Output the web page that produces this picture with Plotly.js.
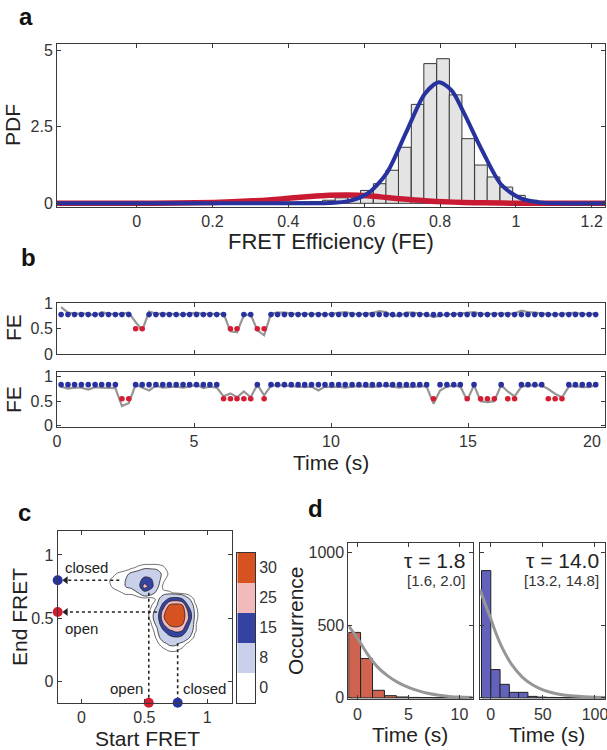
<!DOCTYPE html>
<html><head><meta charset="utf-8">
<script src="https://cdn.plot.ly/plotly-3.0.1.min.js"></script>
<style>html,body{margin:0;padding:0;background:#fff}#chart{width:607px;height:750px}</style>
</head><body><div id="chart"></div>
<script>
// ===== Panel a: FRET efficiency histogram and fits =====
const histCenters = [0.340,0.373,0.407,0.440,0.474,0.507,0.540,0.574,0.607,0.641,0.674,0.707,0.741,0.774,0.808,0.841,0.874,0.908,0.941,0.975,1.008,1.041,1.075];
const histPDF     = [0.02,0.03,0.04,0.05,0.06,0.10,0.18,0.26,0.42,0.64,1.08,1.83,3.23,4.56,4.72,3.54,2.11,1.25,0.86,0.53,0.26,0.10,0.03];
const histBinWidth = 0.0334;
const openFitX   = [-0.21,0,0.103,0.205,0.306,0.356,0.407,0.457,0.508,0.558,0.609,0.659,0.710,0.760,0.811,0.861,0.912,1.013,1.114,1.235];
const openFitY   = [0,0.002,0.008,0.03,0.08,0.12,0.17,0.22,0.26,0.27,0.245,0.19,0.13,0.085,0.05,0.03,0.015,0.003,0,0];
const closedFitX = [-0.21,0.306,0.457,0.508,0.558,0.609,0.659,0.710,0.760,0.797,0.831,0.861,0.912,0.962,1.013,1.063,1.114,1.235];
const closedFitY = [0,0,0.002,0.01,0.07,0.32,0.98,2.3,3.58,3.95,3.68,3.0,1.7,0.6,0.16,0.03,0,0];

// ===== Panel b: two FRET traces =====
const traceTime = [0.15,0.40,0.64,0.89,1.14,1.39,1.63,1.88,2.13,2.37,2.62,2.87,3.11,3.36,3.61,3.86,4.10,4.35,4.60,4.84,
  5.09,5.34,5.58,5.83,6.08,6.33,6.57,6.82,7.07,7.31,7.56,7.81,8.05,8.30,8.55,8.80,9.04,9.29,9.54,9.78,
  10.03,10.28,10.52,10.77,11.02,11.27,11.51,11.76,12.01,12.25,12.50,12.75,12.99,13.24,13.49,13.74,13.98,14.23,14.48,14.72,
  14.97,15.22,15.46,15.71,15.96,16.21,16.45,16.70,16.95,17.19,17.44,17.69,17.93,18.18,18.43,18.68,18.92,19.17,19.42,19.66];
const trace1FE = [0.93,0.82,0.80,0.80,0.80,0.76,0.83,0.80,0.79,0.80,
  0.82,0.63,0.47,0.84,0.80,0.80,0.80,0.79,0.78,0.80,
  0.82,0.79,0.80,0.79,0.80,0.45,0.43,0.77,0.78,0.47,
  0.37,0.80,0.82,0.82,0.80,0.79,0.80,0.79,0.80,0.78,
  0.80,0.81,0.83,0.80,0.79,0.80,0.81,0.85,0.83,0.75,
  0.76,0.82,0.82,0.80,0.78,0.73,0.76,0.79,0.79,0.80,
  0.81,0.83,0.80,0.79,0.80,0.80,0.79,0.80,0.86,0.83,
  0.82,0.80,0.79,0.78,0.79,0.80,0.82,0.79,0.79,0.80];
const trace1State = [1,1,1,1,1,1,1,1,1,1, 1,0,0,1,1,1,1,1,1,1, 1,1,1,1,1,0,0,1,1,0, 0,1,1,1,1,1,1,1,1,1,
  1,1,1,1,1,1,1,1,1,1, 1,1,1,1,1,1,1,1,1,1, 1,1,1,1,1,1,1,1,1,1, 1,1,1,1,1,1,1,1,1,1];
const trace1Levels = [0.50, 0.78];   // [open, closed]
const trace2FE = [0.80,0.76,0.78,0.78,0.74,0.79,0.78,0.78,0.77,0.40,
  0.46,0.84,0.78,0.72,0.82,0.78,0.79,0.80,0.78,0.80,
  0.84,0.77,0.80,0.78,0.60,0.66,0.58,0.70,0.58,0.84,
  0.62,0.82,0.83,0.82,0.80,0.80,0.79,0.80,0.72,0.80,
  0.79,0.80,0.78,0.80,0.81,0.80,0.79,0.81,0.82,0.80,
  0.78,0.80,0.79,0.81,0.80,0.45,0.72,0.80,0.82,0.80,
  0.52,0.83,0.50,0.48,0.50,0.83,0.70,0.60,0.80,0.82,
  0.83,0.82,0.75,0.65,0.58,0.80,0.81,0.79,0.79,0.83];
const trace2State = [1,1,1,1,1,1,1,1,1,0, 0,1,1,1,1,1,1,1,1,1, 1,1,1,1,0,0,0,0,0,1, 0,1,1,1,1,1,1,1,1,1,
  1,1,1,1,1,1,1,1,1,1, 1,1,1,1,1,0,1,1,1,1, 0,1,0,0,0,1,0,0,1,1, 1,1,0,0,0,1,1,1,1,1];
const trace2Levels = [0.55, 0.84];
const timeTicks = [0,5,10,15,20];

// ===== Panel c: transition density plot =====
const gridX = [0.20,0.25,0.30,0.35,0.40,0.45,0.50,0.55,0.60,0.65,0.70,0.75,0.80,0.85,0.90,0.95];
const gridY = [0.20,0.25,0.30,0.35,0.40,0.45,0.50,0.55,0.60,0.65,0.70,0.75,0.80,0.85,0.90,0.95,1.00];
const occGrid = [
  [0,0,0,0,0,0,0,0,0,0,0,0,0,0,0,0],
  [0,0,0,0,0,0,0,0,0,1,2,2,1,0,0,0],
  [0,0,0,0,0,0,0,0,1,3,5,5,3,1,0,0],
  [0,0,0,0,0,0,0,0,2,7,10,12,10,5,1,0],
  [0,0,0,0,0,0,0,0,3,11,18,22,20,9,2,0],
  [0,0,0,0,0,0,0,1,5,19,30,32,29,14,2,0],
  [0,0,0,0,0,0,0,2,7,26,38,36,33,21,3,0],
  [0,0,0,0,0,0,0,2,6,24,36,38,34,19,3,0],
  [0,0,0,0,0,0,0,1,4,15,30,32,30,11,2,0],
  [0,0,0,0,0,0,0,0,2,8,14,16,13,5,1,0],
  [0,0,1,2,2,4,8,6,3,2,2,1,0,0,0,0],
  [0,2,3,4,5,7,24,16,5,1,0,0,0,0,0,0],
  [1,2,3,4,6,9,15,14,6,2,0,0,0,0,0,0],
  [0,1,2,3,5,6,9,8,6,3,1,0,0,0,0,0],
  [0,0,0,0,1,2,3,3,3,2,0,0,0,0,0,0],
  [0,0,0,0,0,0,0,0,0,0,0,0,0,0,0,0],
  [0,0,0,0,0,0,0,0,0,0,0,0,0,0,0,0]];
const colorbarLabels = ['0','8','15','25','30'];
const stateNames = ['open','closed'];
const stateStartFRET = [0.535, 0.765];  // x positions on Start FRET axis
const stateEndFRET   = [0.548, 0.80];   // y positions on End FRET axis
const guideFrom = [0.60, 0.30];         // where horizontal guides leave the clusters (Start FRET)
const guideTop  = [0.70, 0.30];         // where vertical guides leave the clusters (End FRET)

// ===== Panel d: dwell-time histograms =====
const dwellOpenX = [-0.28,0.89,2.06,3.23,4.40,5.57,6.74,7.91,9.08,10.25];
const dwellOpenN = [451,271,52,15,6,3,2,1,1,1];
const dwellOpenW = 1.17;
const dwellClosedX = [-4.4,4.5,13.4,22.3,31.2,40.1,49.0,57.9,66.8,75.7,84.6,93.5,102.4];
const dwellClosedN = [877,195,93,38,38,10,5,3,2,1,1,1,3];
const dwellClosedW = 8.9;
const expOpenX = [-0.9,0,1,2,3,4,5,6,7,8,9,10,11.3];
const expOpenY = [500,410,300,210,150,105,72,48,30,18,10,5,2];
const expClosedX = [-10.3,-5,0,5,10,15,20,30,40,50,60,70,80,90,100,109.6];
const expClosedY = [745,640,545,445,360,290,230,145,90,55,33,20,12,7,4,2];
const tauText = ['\u03C4 = 1.8','\u03C4 = 14.0'];
const ciText  = ['[1.6, 2.0]','[13.2, 14.8]'];

// ===== styling =====
const F = "'Liberation Sans', Arial, Helvetica, sans-serif";
const W = 607, H = 750;
const px = x => x / W, py = y => 1 - y / H;
const dx = (a, b) => [px(a), px(b)];
const dy = (t, b) => [py(b), py(t)];
const BLUE = 'rgb(40,50,158)', RED = 'rgb(212,28,50)', GRAY = 'rgb(150,150,150)';
const LB = 'rgb(201,209,234)', DB = 'rgb(52,66,162)', PK = 'rgb(242,186,186)', OR = 'rgb(214,82,32)';
const CS = [[0,'#ffffff'],[0.125,'#ffffff'],[0.125,LB],[0.375,LB],[0.375,DB],[0.625,DB],[0.625,PK],[0.875,PK],[0.875,OR],[1,OR]];
const TF = {family: F, size: 16, color: '#333'};

function axis(o) {
  return Object.assign({
    showline: true, linecolor: '#3a3a3a', linewidth: 1, mirror: 'ticks',
    ticks: 'inside', ticklen: 4, tickwidth: 1, tickcolor: '#3a3a3a',
    showgrid: false, zeroline: false, fixedrange: true, tickfont: TF
  }, o);
}

const traces = [];
// a
traces.push({type:'bar', x: histCenters, y: histPDF, width: histBinWidth, xaxis:'x', yaxis:'y',
  marker:{color:'rgb(228,228,228)', line:{color:'rgb(55,55,55)', width:1}}, hoverinfo:'skip'});
traces.push({type:'scatter', mode:'lines', x: openFitX, y: openFitY, xaxis:'x', yaxis:'y',
  line:{color:'rgb(200,26,50)', width:5.5, shape:'spline', smoothing:0.8}, hoverinfo:'skip'});
traces.push({type:'scatter', mode:'lines', x: closedFitX, y: closedFitY, xaxis:'x', yaxis:'y',
  line:{color:BLUE, width:4, shape:'spline', smoothing:0.8}, hoverinfo:'skip'});

// b
function addTrace(fe, st, lv, xa, ya) {
  traces.push({type:'scatter', mode:'lines', x: traceTime, y: fe, xaxis:xa, yaxis:ya,
    line:{color:GRAY, width:2.2}, hoverinfo:'skip'});
  traces.push({type:'scatter', mode:'markers', x: traceTime, y: st.map(s => s === 1 ? lv[1] : null), xaxis:xa, yaxis:ya,
    marker:{color:BLUE, size:5.6}, hoverinfo:'skip'});
  traces.push({type:'scatter', mode:'markers', x: traceTime, y: st.map(s => s === 0 ? lv[0] : null), xaxis:xa, yaxis:ya,
    marker:{color:RED, size:5.6}, hoverinfo:'skip'});
}
addTrace(trace1FE, trace1State, trace1Levels, 'x2', 'y2');
addTrace(trace2FE, trace2State, trace2Levels, 'x3', 'y3');

// c
const cXmin = -0.19, cYmin = -0.17;
traces.push({type:'contour', x: gridX, y: gridY, z: occGrid, xaxis:'x4', yaxis:'y4',
  autocontour:false, contours:{start:4, end:28, size:8, coloring:'fill', showlines:true},
  colorscale: CS, showscale:false, line:{color:'#222', width:0.8, smoothing:1}, hoverinfo:'skip'});
traces.push({type:'contour', x: gridX, y: gridY, z: occGrid, xaxis:'x4', yaxis:'y4',
  autocontour:false, contours:{start:1.5, end:1.5, size:1, coloring:'none', showlines:true},
  showscale:false, line:{color:'#333', width:0.7, smoothing:1}, hoverinfo:'skip'});
for (let i = 0; i < 2; i++) {
  traces.push({type:'scatter', mode:'lines', x:[guideFrom[i], cXmin + 0.07], y:[stateEndFRET[i], stateEndFRET[i]],
    xaxis:'x4', yaxis:'y4', line:{color:'#222', width:1.6, dash:'dot'}, hoverinfo:'skip'});
  traces.push({type:'scatter', mode:'markers', x:[cXmin + 0.065], y:[stateEndFRET[i]], xaxis:'x4', yaxis:'y4',
    marker:{symbol:'triangle-left', size:7, color:'#222'}, hoverinfo:'skip'});
  traces.push({type:'scatter', mode:'lines', x:[stateStartFRET[i], stateStartFRET[i]], y:[guideTop[i], cYmin],
    xaxis:'x4', yaxis:'y4', line:{color:'#222', width:1.6, dash:'dot'}, hoverinfo:'skip'});
}
traces.push({type:'scatter', mode:'markers', x:[cXmin, cXmin], y: stateEndFRET, xaxis:'x4', yaxis:'y4', cliponaxis:false,
  marker:{color:[RED, BLUE], size:10}, hoverinfo:'skip'});
traces.push({type:'scatter', mode:'markers', x: stateStartFRET, y:[cYmin, cYmin], xaxis:'x4', yaxis:'y4', cliponaxis:false,
  marker:{color:[RED, BLUE], size:10}, hoverinfo:'skip'});
traces.push({type:'heatmap', x:[0], y:[0,1,2,3,4], z:[[0],[1],[2],[3],[4]], zmin:0, zmax:4, colorscale:CS,
  showscale:false, xaxis:'x5', yaxis:'y5', hoverinfo:'skip'});

// d
traces.push({type:'bar', x: dwellOpenX, y: dwellOpenN, width: dwellOpenW, xaxis:'x6', yaxis:'y6',
  marker:{color:'rgb(208,98,80)', line:{color:'#222', width:1}}, hoverinfo:'skip'});
traces.push({type:'scatter', mode:'lines', x: expOpenX, y: expOpenY, xaxis:'x6', yaxis:'y6',
  line:{color:GRAY, width:3, shape:'spline', smoothing:0.6}, hoverinfo:'skip'});
traces.push({type:'bar', x: dwellClosedX, y: dwellClosedN, width: dwellClosedW, xaxis:'x7', yaxis:'y7',
  marker:{color:'rgb(98,98,188)', line:{color:'#222', width:1}}, hoverinfo:'skip'});
traces.push({type:'scatter', mode:'lines', x: expClosedX, y: expClosedY, xaxis:'x7', yaxis:'y7',
  line:{color:GRAY, width:3, shape:'spline', smoothing:0.6}, hoverinfo:'skip'});

function ann(text, x, y, o) {
  return Object.assign({text: text, x: px(x), y: py(y), xref:'paper', yref:'paper', showarrow:false,
    xanchor:'center', yanchor:'middle', font:{family:F, size:21, color:'#222'}}, o || {});
}
const bold = {family:F, size:24, color:'#111'};
const small = {family:F, size:15, color:'#222'};
const annotations = [
  ann('<b>a</b>', 26, 17, {font:bold}),
  ann('<b>b</b>', 28, 257, {font:bold}),
  ann('<b>c</b>', 25, 512, {font:bold}),
  ann('<b>d</b>', 315, 508, {font:bold}),
  ann('PDF', 13, 125, {textangle:-90}),
  ann('FRET Efficiency (FE)', 331, 241, {font:{family:F, size:22, color:'#222'}}),
  ann('FE', 13, 328, {textangle:-90}),
  ann('FE', 13, 400, {textangle:-90}),
  ann('Time (s)', 331, 463),
  // last tick label of panel b drawn inside the frame, as in the figure
  {text: String(timeTicks[4]), x: timeTicks[4], xref:'x3', y: py(441), yref:'paper', xanchor:'right', yanchor:'middle',
   xshift:-2, showarrow:false, font: TF},
  ann('End FRET', 19, 617, {textangle:-90}),
  ann('Start FRET', 147, 738),
  ann('Occurrence', 295, 621, {textangle:-90}),
  ann('Time (s)', 410, 734),
  ann('Time (s)', 547, 734),
  ann(stateNames[1], 86, 567, {font:small}),
  ann(stateNames[0], 81, 628, {font:small}),
  ann(stateNames[0], 126, 688, {font:small}),
  ann(stateNames[1], 204, 688, {font:small}),
  ann(tauText[0], 467, 560, {xanchor:'right'}),
  ann(ciText[0], 467, 580, {xanchor:'right', font:{family:F, size:15, color:'#333'}}),
  ann(tauText[1], 601, 560, {xanchor:'right'}),
  ann(ciText[1], 601, 580, {xanchor:'right', font:{family:F, size:15, color:'#333'}})
];

const layout = {
  width: W, height: H, margin:{l:0, r:0, t:0, b:0}, autosize:false,
  paper_bgcolor:'#fff', plot_bgcolor:'rgba(0,0,0,0)', showlegend:false, hovermode:false,
  barmode:'overlay',
  xaxis: axis({domain: dx(57,605), range:[-0.21,1.235], tickvals:[0,0.2,0.4,0.6,0.8,1,1.2], ticktext:['0','0.2','0.4','0.6','0.8','1','1.2'], anchor:'y'}),
  yaxis: axis({domain: dy(44,207), range:[-0.12,5.2], tickvals:[0,2.5,5], ticktext:['0','2.5','5'], anchor:'x'}),
  xaxis2: axis({domain: dx(57,605), range:[0,20], tickvals:timeTicks, showticklabels:false, anchor:'y2'}),
  yaxis2: axis({domain: dy(303,354), range:[0,1.01], tickvals:[0,0.5,1], ticktext:['0','0.5','1'], anchor:'x2'}),
  xaxis3: axis({domain: dx(57,605), range:[0,20], tickvals:timeTicks, ticktext:timeTicks.map((t,i)=> i<4 ? String(t) : ''), anchor:'y3'}),
  yaxis3: axis({domain: dy(372,427), range:[-0.03,1.1], tickvals:[0,0.5,1], ticktext:['0','0.5','1'], anchor:'x3'}),
  xaxis4: axis({domain: dx(57.7,232.3), range:[cXmin,1.2], tickvals:[0,0.5,1], ticktext:['0','0.5','1'], anchor:'y4'}),
  yaxis4: axis({domain: dy(531,702.7), range:[cYmin,1.19], tickvals:[0,0.5,1], ticktext:['0','0.5','1'], anchor:'x4'}),
  xaxis5: {domain: dx(237.3,255), range:[-0.5,0.5], showticklabels:false, ticks:'', showline:true, mirror:true, linecolor:'#333', linewidth:1, showgrid:false, zeroline:false, anchor:'y5', fixedrange:true},
  yaxis5: {domain: dy(552.7,702.7), range:[-0.5,4.5], side:'right', tickvals:[0,1,2,3,4], ticktext: colorbarLabels, ticks:'', showline:true, mirror:true, linecolor:'#333', linewidth:1, showgrid:false, zeroline:false, anchor:'x5', fixedrange:true, tickfont:TF},
  xaxis6: axis({domain: dx(348.3,472.7), range:[-0.9,11.3], tickvals:[0,5,10], anchor:'y6'}),
  yaxis6: axis({domain: dy(543.3,699.3), range:[-10,1065], tickvals:[0,500,1000], anchor:'x6'}),
  xaxis7: axis({domain: dx(480,605), range:[-10.3,109.6], tickvals:[0,50,100], anchor:'y7', ticklabeloverflow:'allow'}),
  yaxis7: axis({domain: dy(543.3,699.3), range:[-10,1065], tickvals:[0,500,1000], showticklabels:false, anchor:'x7'}),
  annotations: annotations
};

Plotly.newPlot('chart', traces, layout, {staticPlot:true, displayModeBar:false});
</script>
</body></html>
